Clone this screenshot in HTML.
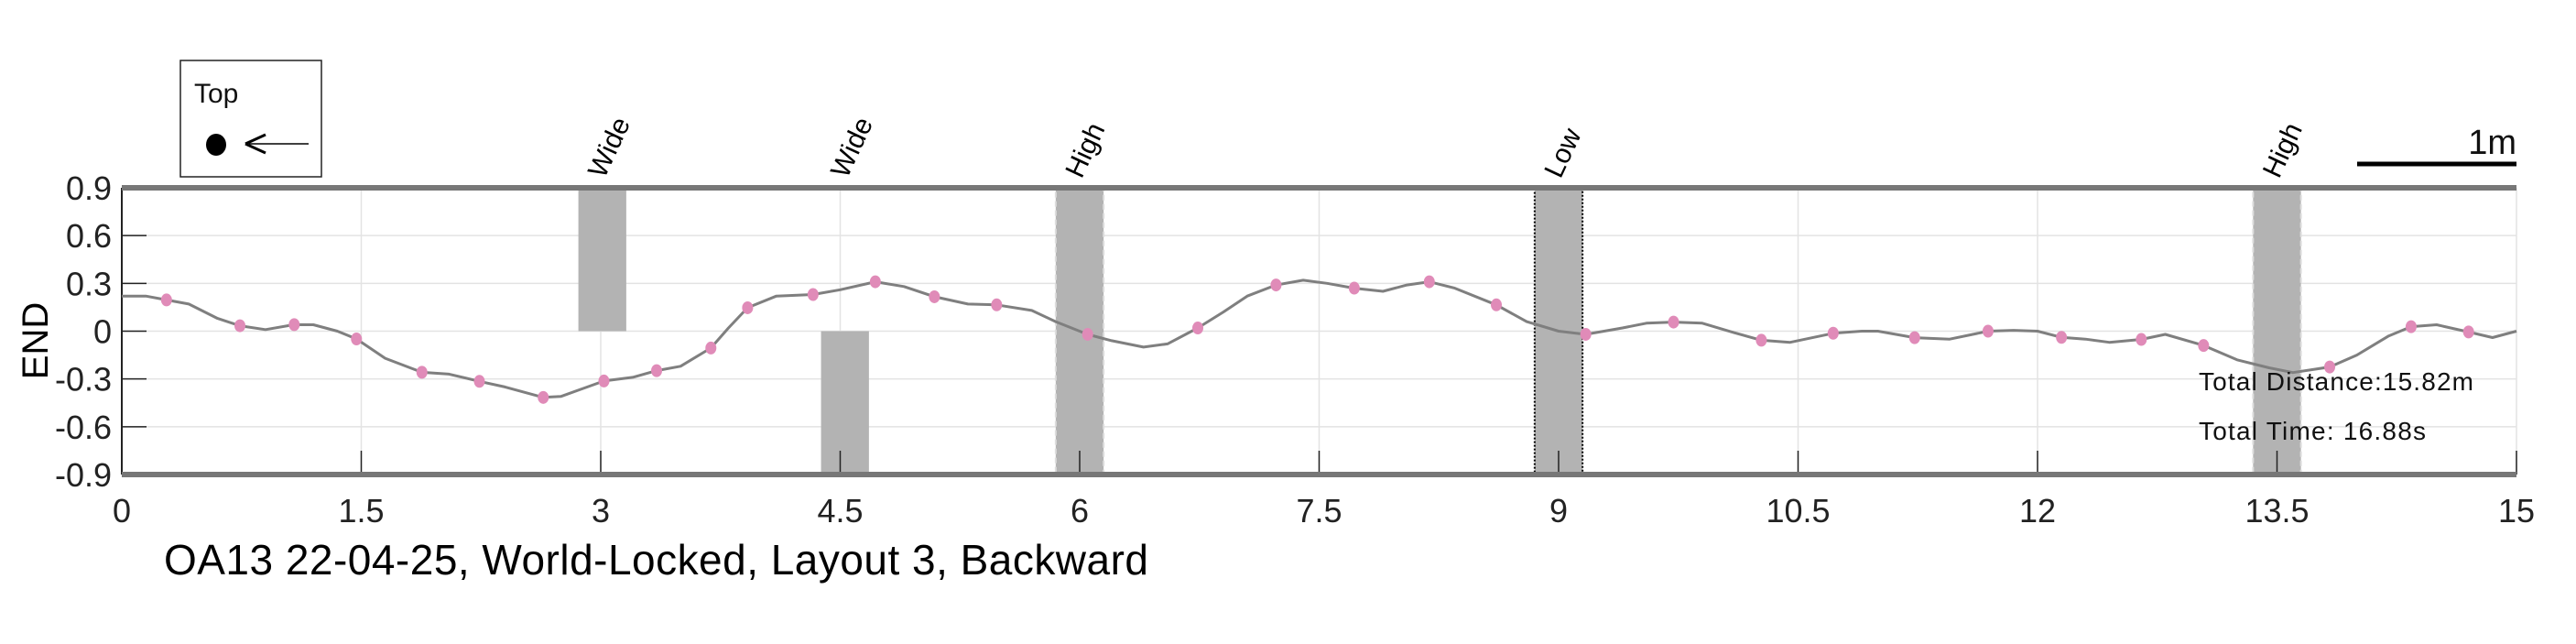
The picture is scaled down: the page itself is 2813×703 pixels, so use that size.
<!DOCTYPE html>
<html><head><meta charset="utf-8"><style>
html,body{margin:0;padding:0;background:#fff;}
svg{display:block;font-family:"Liberation Sans",sans-serif;}
</style></head><body>
<svg id="chart" width="2813" height="703" viewBox="0 0 2813 703" xmlns="http://www.w3.org/2000/svg">
<rect width="2813" height="703" fill="#fff"/>
<g id="grid"></g>
<g id="bars"></g>
<g id="axes"></g>
<g id="series"></g>
<g id="labels"></g>
<g>
<rect x="197" y="66" width="154" height="127" fill="#fff" stroke="#222" stroke-width="1.5"/>
<text x="212" y="112" font-size="30" fill="#111">Top</text>
<ellipse cx="236" cy="158" rx="11" ry="12" fill="#000"/>
<line x1="272" y1="157" x2="337" y2="157" stroke="#000" stroke-width="1.5"/>
<path d="M268,157 L290,147 M268,157 L290,167" stroke="#000" stroke-width="3" fill="none"/>
</g>
<g>
<line x1="2574" y1="179" x2="2748" y2="179" stroke="#000" stroke-width="5"/>
<text x="2748" y="168" font-size="38" text-anchor="end" fill="#111">1m</text>
</g>
<text x="2401" y="426" font-size="28" fill="#111" textLength="300">Total Distance:15.82m</text>
<text x="2401" y="480" font-size="28" fill="#111" textLength="248">Total Time: 16.88s</text>
<text transform="translate(52,372) rotate(-90)" font-size="40" text-anchor="middle" fill="#000">END</text>
<text x="179" y="627" font-size="46" fill="#000" textLength="1075">OA13 22-04-25, World-Locked, Layout 3, Backward</text>
</svg>
<script>
const xTicks=[0,1.5,3,4.5,6,7.5,9,10.5,12,13.5,15];
const xTickLabels=["0","1.5","3","4.5","6","7.5","9","10.5","12","13.5","15"];
const yTicks=[0.9,0.6,0.3,0,-0.3,-0.6,-0.9];
const yTickLabels=["0.9","0.6","0.3","0","-0.3","-0.6","-0.9"];
const lineX=[0,0.15,0.28,0.42,0.6,0.74,0.9,1.08,1.2,1.35,1.47,1.65,1.88,2.05,2.24,2.4,2.64,2.75,3.02,3.2,3.35,3.5,3.69,3.8,3.92,4.1,4.33,4.5,4.72,4.9,5.09,5.3,5.48,5.7,5.85,6.05,6.2,6.4,6.55,6.74,6.9,7.05,7.23,7.4,7.55,7.72,7.9,8.05,8.19,8.35,8.61,8.8,9.0,9.17,9.4,9.55,9.72,9.9,10.1,10.27,10.45,10.72,10.9,11.0,11.23,11.45,11.69,11.85,12.0,12.15,12.3,12.45,12.65,12.8,13.04,13.25,13.45,13.6,13.83,14.0,14.2,14.34,14.5,14.7,14.85,15];
const lineY=[0.22,0.22,0.196,0.17,0.08,0.034,0.01,0.041,0.04,0.0,-0.049,-0.17,-0.258,-0.27,-0.315,-0.35,-0.416,-0.41,-0.313,-0.29,-0.248,-0.22,-0.106,0.02,0.147,0.22,0.23,0.26,0.31,0.28,0.216,0.17,0.165,0.13,0.06,-0.02,-0.06,-0.1,-0.08,0.02,0.12,0.22,0.29,0.32,0.3,0.27,0.25,0.29,0.31,0.27,0.165,0.06,0,-0.02,0.02,0.05,0.057,0.05,-0.01,-0.057,-0.07,-0.013,0,0,-0.041,-0.05,0,0.005,0,-0.039,-0.05,-0.07,-0.052,-0.02,-0.09,-0.18,-0.23,-0.26,-0.225,-0.15,-0.03,0.028,0.04,-0.005,-0.04,0];
const markerX=[0.28,0.74,1.08,1.47,1.88,2.24,2.64,3.02,3.35,3.69,3.92,4.33,4.72,5.09,5.48,6.05,6.74,7.23,7.72,8.19,8.61,9.17,9.72,10.27,10.72,11.23,11.69,12.15,12.65,13.04,13.83,14.34,14.7];
const markerY=[0.196,0.034,0.041,-0.049,-0.258,-0.315,-0.416,-0.313,-0.248,-0.106,0.147,0.23,0.31,0.216,0.165,-0.02,0.02,0.29,0.27,0.31,0.165,-0.02,0.057,-0.057,-0.013,-0.041,0,-0.039,-0.052,-0.09,-0.225,0.028,-0.005];
const regionLabels=["Wide","Wide","High","Low","High"];
const regionStart=[2.86,4.38,5.85,8.85,13.35];
const regionEnd=[3.16,4.68,6.15,9.15,13.65];
const regionTop=[0.9,0,0.9,0.9,0.9];
const regionBottom=[0,-0.9,-0.9,-0.9,-0.9];
const regionStyle=["plain","plain","dashed","dotted","dashed"];

const NS="http://www.w3.org/2000/svg";
const X0=133,X1=2748,Y0=205,Y1=518;
const xs=v=>X0+(v-0)/(15-0)*(X1-X0);
const ys=v=>Y0+(0.9-v)/(1.8)*(Y1-Y0);
function mk(tag,attrs,parent){const e=document.createElementNS(NS,tag);for(const k in attrs)e.setAttribute(k,attrs[k]);parent.appendChild(e);return e;}
const grid=document.getElementById('grid'),bars=document.getElementById('bars'),axes=document.getElementById('axes'),series=document.getElementById('series'),labels=document.getElementById('labels');
xTicks.forEach((t,i)=>{
  const g=mk('line',{x1:xs(t),x2:xs(t),y1:Y0,y2:Y1,stroke:'#e3e3e3','stroke-width':1.5},grid);
  
  
  const tk=mk('line',{x1:xs(t),x2:xs(t),y1:Y1-26,y2:Y1,stroke:'#222','stroke-width':1.5},axes);
  
  
  const tx=mk('text',{x:xs(t),y:570,'font-size':36,'text-anchor':'middle',fill:'#222'},labels);
  tx.textContent=xTickLabels[i];
  
  
});
yTicks.forEach((t,i)=>{
  const g=mk('line',{x1:X0,x2:X1,y1:ys(t),y2:ys(t),stroke:'#e3e3e3','stroke-width':1.5},grid);
  
  
  const tk=mk('line',{x1:X0,x2:X0+27,y1:ys(t),y2:ys(t),stroke:'#222','stroke-width':1.5},axes);
  
  
  const tx=mk('text',{x:122,y:ys(t)+13,'font-size':36,'text-anchor':'end',fill:'#222'},labels);
  tx.textContent=yTickLabels[i];
  
  
});
regionStart.forEach((s,i)=>{
  const x=xs(s),w=xs(regionEnd[i])-xs(s),y=ys(regionTop[i]),h=ys(regionBottom[i])-ys(regionTop[i]);
  const a={x:x,y:y,width:w,height:h,fill:'#b3b3b3'};
  if(regionStyle[i]==='dashed'){a.stroke='#ddd';a['stroke-width']=2;a['stroke-dasharray']='6,4';}
  if(regionStyle[i]==='dotted'){a.stroke='#000';a['stroke-width']=2;a['stroke-dasharray']='2,2';}
  const r=mk('rect',a,bars);
  
  
  const cx=(xs(s)+xs(regionEnd[i]))/2;
  const tx=mk('text',{transform:'translate('+(cx+2)+',196) rotate(-65)','font-size':30,fill:'#000'},labels);
  tx.textContent=regionLabels[i];
  
  
});
const la=mk('line',{x1:X0,x2:X0,y1:Y0,y2:Y1,stroke:'#222','stroke-width':2},axes);


const tb=mk('line',{x1:X0,x2:X1,y1:Y0,y2:Y0,stroke:'#777','stroke-width':6},axes);


const bb=mk('line',{x1:X0,x2:X1,y1:Y1,y2:Y1,stroke:'#777','stroke-width':6},axes);


let d='';
lineX.forEach((v,i)=>{d+=(i?'L':'M')+xs(v).toFixed(1)+','+ys(lineY[i]).toFixed(1);});
const p=mk('path',{d:d,fill:'none',stroke:'#7f7f7f','stroke-width':3,'stroke-linejoin':'round'},series);


markerX.forEach((v,i)=>{
  const c=mk('ellipse',{cx:xs(v),cy:ys(markerY[i]),rx:6,ry:7,fill:'#e08bb8'},series);
  
  
});
</script>
</body></html>
